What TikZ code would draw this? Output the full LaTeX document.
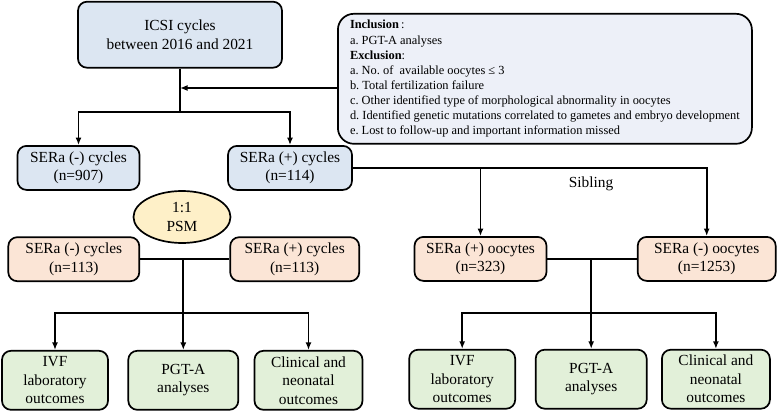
\documentclass[tikz,border=0pt]{standalone}
\usepackage{fontspec}
\setmainfont{Liberation Serif}
\frenchspacing
\usetikzlibrary{shapes,arrows.meta,positioning,calc}
\definecolor{cycblue}{HTML}{DCE6F2}
\definecolor{critblue}{HTML}{EDF0F8}
\definecolor{matchpeach}{HTML}{FBE5D6}
\definecolor{outgreen}{HTML}{E2F0D9}
\definecolor{psmyellow}{HTML}{FEF0C8}
\tikzset{
    box/.style={draw, line width=1.7pt, rounded corners=9pt, align=center,
        inner sep=0pt, font=\fontsize{15.4}{18.5}\selectfont},
    cycbox/.style={box, fill=cycblue},
    peachbox/.style={box, fill=matchpeach},
    outbox/.style={box, fill=outgreen, minimum width=106pt, minimum height=59pt},
    link/.style={line width=1.7pt},
    arrowlink/.style={link, -{Latex[length=7.5pt,width=6pt]}}
}

\begin{document}
\begin{tikzpicture}[x=1pt, y=-1pt]
    \useasboundingbox (0,0) rectangle (777,412);
    % Cohort
    \node[cycbox, minimum width=204pt, minimum height=66pt] (icsi) at (180,34.7)
        {ICSI cycles\\between 2016 and 2021};
    \node[box, fill=critblue, rounded corners=16pt, minimum width=414pt, minimum height=130pt,
        align=left, font=\fontsize{12.4}{15.1}\selectfont] (crit) at (544.9,78.8)
        {\textbf{Inclusion}\,:\\
         a. PGT-A analyses\\
         \textbf{Exclusion}:\\
         a. No. of~ available oocytes ≤ 3\\
         b. Total fertilization failure\\
         c. Other identified type of morphological abnormality in oocytes\\
         d. Identified genetic mutations correlated to gametes and embryo development\\
         e. Lost to follow-up and important information missed};
    \node[cycbox, minimum width=122pt, minimum height=44pt] (neg) at (78.5,167.9)
        {SERa (-) cycles\\(n=907)};
    \node[cycbox, minimum width=124pt, minimum height=44pt] (pos) at (290,167.9)
        {SERa (+) cycles\\(n=114)};
    \coordinate (split) at (180,112.3);
    \coordinate (excl) at (180,88);
    \draw[link] (icsi.south) -- (split);
    \draw[arrowlink] (split) -| (neg.north);
    \draw[arrowlink] (split) -| (pos.north);
    \draw[arrowlink] (crit.west |- excl) -- (excl);

    % PSM arm
    \node[draw, ellipse, line width=1.7pt, fill=psmyellow, minimum width=97pt, minimum height=52pt,
        inner sep=0pt, align=center, font=\fontsize{15.4}{19.5}\selectfont] (psm) at (182,217) {1:1\\PSM};
    \node[peachbox, minimum width=131pt, minimum height=44pt] (negm) at (73.8,259.2)
        {SERa (-) cycles\\(n=113)};
    \node[peachbox, minimum width=129pt, minimum height=44pt] (posm) at (294.7,259.2)
        {SERa (+) cycles\\(n=113)};
    \node[outbox] (ivfL) at (55,380.3) {IVF\\laboratory\\outcomes};
    \node[outbox, minimum width=110pt] (pgtL) at (183.3,380.3) {PGT-A\\analyses};
    \node[outbox, minimum width=108pt] (clinL) at (308.5,380.3) {Clinical and\\neonatal\\outcomes};
    \coordinate (mjoin) at (negm.east -| pgtL.north);
    \coordinate (lbar) at (183.3,313.3);
    \draw[link] (negm.east) -- (posm.west);
    \draw[arrowlink] (mjoin) -- (pgtL.north);
    \foreach \out in {ivfL,clinL} {
        \draw[arrowlink] (lbar) -| (\out.north);
    }

    % Sibling arm
    \node[peachbox, minimum width=132pt, minimum height=44pt] (poso) at (480.5,258.9)
        {SERa (+) oocytes\\(n=323)};
    \node[peachbox, minimum width=138pt, minimum height=44pt] (nego) at (706.7,258.9)
        {SERa (-) oocytes\\(n=1253)};
    \draw[arrowlink] (pos.east) -| (nego.north);
    \draw[arrowlink] (poso.north |- pos.east) -- (poso.north);
    \node[font=\fontsize{15.4}{18.5}\selectfont] (sib) at (591,183.5) {Sibling};
    \node[outbox] (ivfR) at (462.2,379.2) {IVF\\laboratory\\outcomes};
    \node[outbox, minimum width=111pt] (pgtR) at (591.2,379.2) {PGT-A\\analyses};
    \node[outbox, minimum width=108pt] (clinR) at (715.9,379.2) {Clinical and\\neonatal\\outcomes};
    \coordinate (ojoin) at (poso.east -| pgtR.north);
    \coordinate (rbar) at (591.2,313.3);
    \draw[link] (poso.east) -- (nego.west);
    \draw[arrowlink] (ojoin) -- (pgtR.north);
    \foreach \out in {ivfR,clinR} {
        \draw[arrowlink] (rbar) -| (\out.north);
    }
\end{tikzpicture}
\end{document}
